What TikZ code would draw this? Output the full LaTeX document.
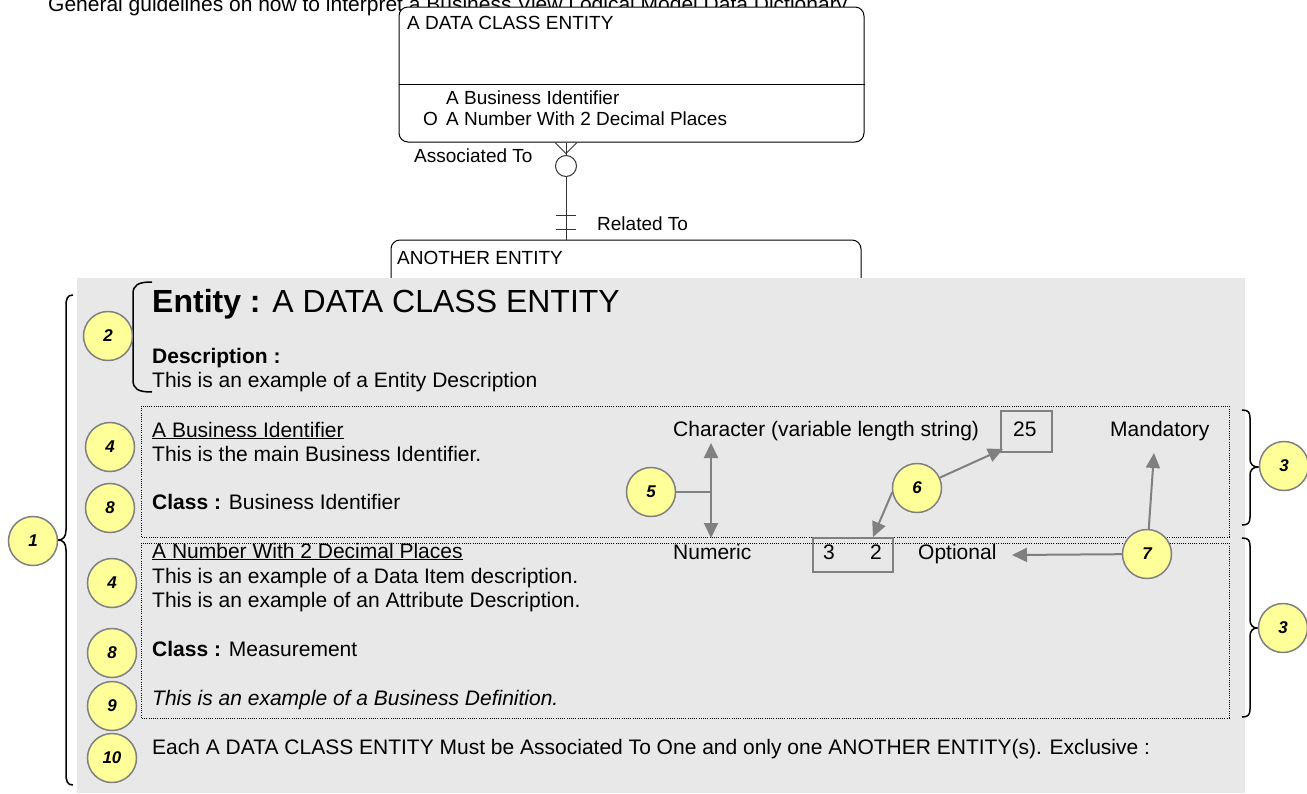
\documentclass[tikz,border=0pt]{standalone}
\usepackage{fontspec}
\setmainfont{Liberation Sans}
\usetikzlibrary{arrows.meta,calc}
\definecolor{panel}{RGB}{232,232,232}
\definecolor{note}{RGB}{255,255,153}
\definecolor{edge}{RGB}{128,128,128}
\begin{document}
\begin{tikzpicture}[x=1pt,y=-1pt,
  txt/.style={anchor=base west, inner sep=0, font=\fontsize{21}{24}\selectfont},
  etxt/.style={anchor=base west, inner sep=0, font=\fontsize{19}{22}\selectfont},
  num/.style={circle, draw=edge, line width=1.5pt, fill=note, minimum size=49pt, inner sep=0, font=\fontsize{17}{17}\selectfont\bfseries\itshape},
  ebox/.style={draw=black, line width=1pt, rounded corners=9pt, fill=white, inner sep=0},
  gbox/.style={draw=edge, line width=1.5pt, inner sep=0},
  dotbox/.style={draw=black, line width=1pt, dash pattern=on 1pt off 1.2pt},
  rel/.style={draw=black!80, line width=1pt},
  brace/.style={draw=black, line width=1.5pt},
  gline/.style={draw=edge, line width=2pt},
  garrow/.style={draw=edge, line width=2pt, -{Triangle[length=15pt,width=14pt]}},
  garrows/.style={draw=edge, line width=2pt, {Triangle[length=15pt,width=14pt]}-{Triangle[length=15pt,width=14pt]}}
]
\useasboundingbox (0,0) rectangle (1307,793);

% title (partly hidden by the entity box)
\node[anchor=base west, inner sep=0, font=\fontsize{21}{24}\selectfont] (title) at (48,11)
  {General guidelines on how to interpret a Business View Logical Model Data Dictionary};

% second entity (lower part hidden by the panel)
\node[ebox, minimum width=470pt, minimum height=80pt] (box2) at (626,280) {};
\node[etxt] (box2t) at (397,264) {ANOTHER ENTITY};

% first entity
\node[ebox, minimum width=465pt, minimum height=135pt] (box1) at (631.5,74.5) {};
\draw[line width=1pt] (box1.west |- 0,84) -- (box1.east |- 0,84);
\node[etxt] (box1t) at (407,29) {A DATA CLASS ENTITY};
\node[etxt] (att1) at (446,104) {A Business Identifier};
\node[etxt] (opt) at (423,125) {O};
\node[etxt] (att2) at (446,125) {A Number With 2 Decimal Places};

% relationship
\node[circle, draw=black!80, line width=1pt, minimum size=21pt, inner sep=0] (oc) at (566,166) {};
\coordinate (rtop) at (oc |- box1.south);
\coordinate (rbot) at (oc |- box2.north);
\draw[rel] (rtop) -- (oc);
\draw[rel] (oc) -- (rbot);
\draw[rel] ($(rtop)+(-11,0)$) -- ($(rtop)+(0,11)$) -- ($(rtop)+(11,0)$);
\draw[rel] ($(rbot)+(-10,-24)$) -- ++(20,0);
\draw[rel] ($(rbot)+(-10,-10)$) -- ++(20,0);
\node[etxt] (assoc) at (414,162) {Associated To};
\node[etxt] (relto) at (597,230) {Related To};

% panel
\fill[panel] (77,278) rectangle (1245,793);

% dotted attribute boxes
\draw[dotbox] (141,406) rectangle (1229,537);
\draw[dotbox] (141,543) rectangle (1229,718);

% texts
\node[anchor=base west, inner sep=0, font=\fontsize{32}{36}\selectfont] (head) at (152,312) {\textbf{Entity :} A DATA CLASS ENTITY};
\node[txt] (desc) at (152,363) {\textbf{Description :}};
\node[txt] (desct) at (152,387) {This is an example of a Entity Description};
\node[txt] (a1n) at (152,437) {\underline{A Business Identifier}};
\node[txt] (a1d) at (152,461) {This is the main Business Identifier.};
\node[txt] (a1c) at (152,509) {\textbf{Class :} Business Identifier};
\node[txt] (a2n) at (152,558) {\underline{A Number With 2 Decimal Places}};
\node[txt] (a2d) at (152,583) {This is an example of a Data Item description.};
\node[txt] (a2e) at (152,607) {This is an example of an Attribute Description.};
\node[txt] (a2c) at (152,656) {\textbf{Class :} Measurement};
\node[txt] (a2b) at (152,705) {\textit{This is an example of a Business Definition.}};
\node[txt] (rule) at (152,754) {Each A DATA CLASS ENTITY Must be Associated To One and only one ANOTHER ENTITY(s). Exclusive :};

\node[txt] (type1) at (673,436) {Character (variable length string)};
\node[gbox, minimum width=51pt, minimum height=41pt] (b25) at (1026.5,431.5) {};
\node[txt] (len1) at (1013,436) {25};
\node[txt] (mand) at (1110,436) {Mandatory};
\node[txt] (type2) at (673,559) {Numeric};
\node[gbox, minimum width=80pt, minimum height=34pt] (b32) at (853,555) {};
\node[txt] (len2) at (823,559) {3};
\node[txt] (dec2) at (870,559) {2};
\node[txt] (optl) at (918,559) {Optional};

% braces
\draw[brace] (73,295) .. controls (67,295) and (66,299) .. (66,307) -- (66,530)
  .. controls (66,537) and (63,540) .. (58,540) .. controls (63,540) and (66,543) .. (66,550)
  -- (66,773) .. controls (66,781) and (67,785) .. (73,785);
\draw[brace] (152,282) .. controls (138,282) and (133,285) .. (133,294) -- (133,380)
  .. controls (133,389) and (138,392) .. (152,392);
\draw[brace] (1242,410) .. controls (1248,410) and (1250,412) .. (1250,418) -- (1250,459)
  .. controls (1250,464) and (1253,467) .. (1258,467) .. controls (1253,467) and (1250,470) .. (1250,475)
  -- (1250,517) .. controls (1250,523) and (1248,525) .. (1242,525);
\draw[brace] (1242,538) .. controls (1248,538) and (1250,540) .. (1250,546) -- (1250,620)
  .. controls (1250,625) and (1253,628) .. (1257,628) .. controls (1253,628) and (1250,631) .. (1250,636)
  -- (1250,709) .. controls (1250,715) and (1248,717) .. (1242,717);

% numbered notes
\node[num] (n1) at (33,541) {1};
\node[num] (n2) at (108,336) {2};
\node[num] (n4a) at (110,447) {4};
\node[num] (n8a) at (110,508) {8};
\node[num] (n4b) at (112,583) {4};
\node[num] (n8b) at (112,653) {8};
\node[num] (n9) at (112,706) {9};
\node[num] (n10) at (112,758) {10};
\node[num] (n5) at (651,492) {5};
\node[num] (n6) at (917,488) {6};
\node[num] (n7) at (1147,554) {7};
\node[num] (n3a) at (1284,466) {3};
\node[num] (n3b) at (1283,628) {3};

% pointers
\coordinate (p5t) at (711,443);
\coordinate (p5b) at (711,538);
\coordinate (p5m) at (711,492);
\draw[garrows] (p5t) -- (p5b);
\draw[gline] (n5) -- (p5m);
\coordinate (p25) at (1003,449);
\coordinate (p32) at (873,537);
\draw[garrow] (n6) -- (p25);
\draw[garrow] (n6.190) -- (p32);
\coordinate (pOpt) at (1012,555);
\coordinate (pMan) at (1154,453);
\draw[garrow] (n7) -- (pOpt);
\draw[garrow] (n7) -- (pMan);
\end{tikzpicture}
\end{document}
